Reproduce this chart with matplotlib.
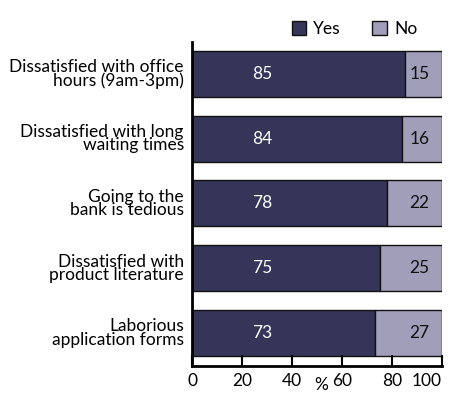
import matplotlib
matplotlib.use("Agg")
import matplotlib.pyplot as plt
from matplotlib.patches import Patch

categories = ["Dissatisfied with office\nhours (9am-3pm)",
              "Dissatisfied with long\nwaiting times",
              "Going to the\nbank is tedious",
              "Dissatisfied with\nproduct literature",
              "Laborious\napplication forms"]
yes_vals = [85, 84, 78, 75, 73]
no_vals = [15, 16, 22, 25, 27]
xticks = [0, 20, 40, 60, 80, 100]

plt.rcParams['font.family'] = ['Lato', 'DejaVu Sans']
yes_color = "#35355a"
no_color = "#a19eba"
fs = 12.5

fig = plt.figure(figsize=(4.52, 3.96), dpi=100)
ax = fig.add_axes([0.425, 0.0758, 0.553, 0.818])
n = len(categories)
ypos = [n - 1 - i for i in range(n)]
h = 0.71
ax.barh(ypos, yes_vals, height=h, color=yes_color, edgecolor="#111111", linewidth=1.0)
ax.barh(ypos, no_vals, left=yes_vals, height=h, color=no_color, edgecolor="#111111", linewidth=1.0)
for y, yv, nv in zip(ypos, yes_vals, no_vals):
    ax.text(28, y, str(yv), color="white", ha="center", va="center", fontsize=fs)
    ax.text(91, y, str(nv), color="#111111", ha="center", va="center", fontsize=fs)

ax.set_xlim(0, 100)
ax.set_ylim(-0.51, n - 0.51)
ax.set_yticks(ypos)
ax.set_yticklabels(categories, fontsize=fs, linespacing=0.8, ha="right")
ax.tick_params(axis="y", length=0, pad=6)
ax.set_xticks(xticks)
labels = ax.set_xticklabels([str(t) for t in xticks], fontsize=fs)
labels[-1].set_ha("right")
ax.tick_params(axis="x", direction="in", length=8, width=1.5, pad=5)
for s in ["top", "right"]:
    ax.spines[s].set_visible(False)
ax.spines["left"].set_linewidth(2)
ax.spines["bottom"].set_linewidth(2)
ax.text(0.515, -0.074, "%", transform=ax.transAxes, ha="center", va="baseline", fontsize=fs)

handles = [Patch(facecolor=yes_color, edgecolor="#111111", label="Yes"),
           Patch(facecolor=no_color, edgecolor="#111111", label="No")]
fig.legend(handles=handles, loc="upper left", bbox_to_anchor=(0.63, 0.965), ncol=2,
           frameon=False, fontsize=fs, handlelength=0.85, handleheight=0.85,
           handletextpad=0.4, columnspacing=1.8, borderaxespad=0)

fig.savefig("out.png", dpi=100)
